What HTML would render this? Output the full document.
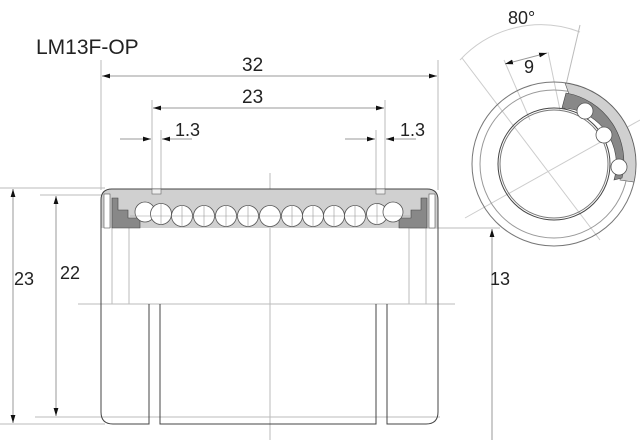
<!DOCTYPE html>
<html><head><style>body{margin:0;background:#fff}svg{display:block}text{font-family:"Liberation Sans",sans-serif;fill:#222}</style></head>
<body>
<svg width="640" height="440" viewBox="0 0 640 440" xmlns="http://www.w3.org/2000/svg">
<defs><marker id="a" viewBox="0 0 10 6" refX="10" refY="3" markerWidth="8" markerHeight="5" orient="auto-start-reverse"><path d="M0,0L10,3L0,6z" fill="#111"/></marker></defs>
<text x="36" y="54" font-size="21">LM13F-OP</text>
<g stroke="#bbb" stroke-width="1" fill="none">
<line x1="101" y1="60" x2="101" y2="190"/><line x1="438" y1="60" x2="438" y2="190"/>
<line x1="152" y1="100" x2="152" y2="190"/><line x1="385" y1="100" x2="385" y2="190"/>
<line x1="161" y1="130" x2="161" y2="190"/><line x1="376" y1="130" x2="376" y2="190"/>
<line x1="270" y1="173" x2="270" y2="440"/>
<line x1="0" y1="188" x2="105" y2="188"/><line x1="40" y1="195" x2="105" y2="195"/>
<line x1="0" y1="424" x2="105" y2="424"/><line x1="35" y1="417" x2="440" y2="417"/>
<line x1="78" y1="304" x2="455" y2="304"/>
<line x1="410" y1="228" x2="500" y2="228"/>
<line x1="112" y1="195" x2="112" y2="304"/><line x1="129" y1="228" x2="129" y2="304"/>
<line x1="409" y1="228" x2="409" y2="304"/><line x1="426" y1="195" x2="426" y2="304"/>
</g>
<g stroke="#999" stroke-width="1" fill="none">
<line x1="102" y1="76" x2="437" y2="76" marker-start="url(#a)" marker-end="url(#a)"/>
<line x1="153" y1="108" x2="384" y2="108" marker-start="url(#a)" marker-end="url(#a)"/>
<line x1="120" y1="139" x2="151" y2="139" marker-end="url(#a)"/>
<line x1="192" y1="139" x2="162" y2="139" marker-end="url(#a)"/>
<line x1="345" y1="139" x2="375" y2="139" marker-end="url(#a)"/>
<line x1="416" y1="139" x2="386" y2="139" marker-end="url(#a)"/>
<line x1="13" y1="189" x2="13" y2="423" marker-start="url(#a)" marker-end="url(#a)"/>
<line x1="56" y1="196" x2="56" y2="416" marker-start="url(#a)" marker-end="url(#a)"/>
<line x1="492" y1="440" x2="492" y2="229" marker-end="url(#a)"/>
</g>
<text x="242" y="71" font-size="19">32</text>
<text x="242" y="103" font-size="19">23</text>
<text x="175" y="136" font-size="18">1.3</text>
<text x="400" y="136" font-size="18">1.3</text>
<text x="14" y="285" font-size="18">23</text>
<text x="60" y="279" font-size="18">22</text>
<text x="490" y="285" font-size="18">13</text>
<path d="M101,228 V200 Q101,189 112,189 H427 Q438,189 438,200 V228" fill="#d0d0d0" stroke="#444"/>
<rect x="152" y="189" width="9" height="5" fill="#eee" stroke="#666" stroke-width="0.6"/>
<rect x="376" y="189" width="9" height="5" fill="#eee" stroke="#666" stroke-width="0.6"/>
<path d="M112,198 h6 v12 h10 v8 h12 v10 h-28z" fill="#888" stroke="#444" stroke-width="0.6"/>
<path d="M427,198 h-6 v12 h-10 v8 h-12 v10 h28z" fill="#888" stroke="#444" stroke-width="0.6"/>
<rect x="104" y="194" width="6" height="34" fill="#fff" stroke="#555" stroke-width="0.6"/>
<rect x="429" y="194" width="6" height="34" fill="#fff" stroke="#555" stroke-width="0.6"/>
<path d="M101,228 V412 Q101,424 113,424 H149 V304 M160,304 V424 H376 V304 M387,304 V424 H426 Q438,424 438,412 V228" fill="none" stroke="#444"/>
<g fill="#fff" stroke="#555" stroke-width="0.8">
<circle cx="145" cy="212" r="10"/><circle cx="161" cy="214" r="10.5"/><circle cx="182" cy="216" r="10.5"/><circle cx="204" cy="216" r="10.5"/><circle cx="226" cy="216" r="10.5"/><circle cx="248" cy="216" r="10.5"/><circle cx="270" cy="216" r="10.5"/><circle cx="292" cy="216" r="10.5"/><circle cx="313" cy="216" r="10.5"/><circle cx="334" cy="216" r="10.5"/><circle cx="355" cy="216" r="10.5"/><circle cx="377" cy="214" r="10.5"/><circle cx="393" cy="212" r="10"/>
</g>
<g stroke="#999" stroke-width="0.6">
<line x1="130" y1="216" x2="410" y2="216"/>
<line x1="182" y1="205" x2="182" y2="227"/><line x1="204" y1="205" x2="204" y2="227"/><line x1="226" y1="205" x2="226" y2="227"/><line x1="248" y1="205" x2="248" y2="227"/><line x1="292" y1="205" x2="292" y2="227"/><line x1="313" y1="205" x2="313" y2="227"/><line x1="334" y1="205" x2="334" y2="227"/><line x1="355" y1="205" x2="355" y2="227"/><line x1="161" y1="204" x2="161" y2="225"/><line x1="377" y1="204" x2="377" y2="225"/>
</g>
<g fill="none">
<path d="M460,60 A110,110 0 0 1 580,32" stroke="#ccc"/>
<line x1="462" y1="58" x2="600" y2="240" stroke="#ccc"/>
<line x1="580" y1="25" x2="566" y2="85" stroke="#bbb"/>
<line x1="504" y1="60" x2="530" y2="120" stroke="#ccc"/>
<line x1="548" y1="52" x2="560" y2="110" stroke="#ccc"/>
<line x1="505" y1="64" x2="547" y2="53" stroke="#999" marker-start="url(#a)" marker-end="url(#a)"/>
<line x1="465" y1="218" x2="640" y2="120" stroke="#ccc"/>
<circle cx="554" cy="164" r="82" stroke="#777"/>
<circle cx="554" cy="164" r="74" stroke="#999"/>
<circle cx="554" cy="164" r="56" stroke="#444"/>
<circle cx="554" cy="164" r="54" stroke="#777"/>
</g>
<path d="M565,83 A82,82 0 0 1 634,182 L620,180 A70,70 0 0 0 570,97z" fill="#d0d0d0" stroke="#555" stroke-width="0.6"/>
<path d="M566,93 A70,70 0 0 1 622,178 L614,180 A56,56 0 0 0 562,108z" fill="#888" stroke="#444" stroke-width="0.6"/>
<g fill="#fff" stroke="#555" stroke-width="0.8"><circle cx="585" cy="111" r="8"/><circle cx="604" cy="135" r="8"/><circle cx="619" cy="167" r="8"/></g>
<text x="508" y="24" font-size="18">80°</text>
<text x="524" y="73" font-size="18">9</text>
</svg>
</body></html>
